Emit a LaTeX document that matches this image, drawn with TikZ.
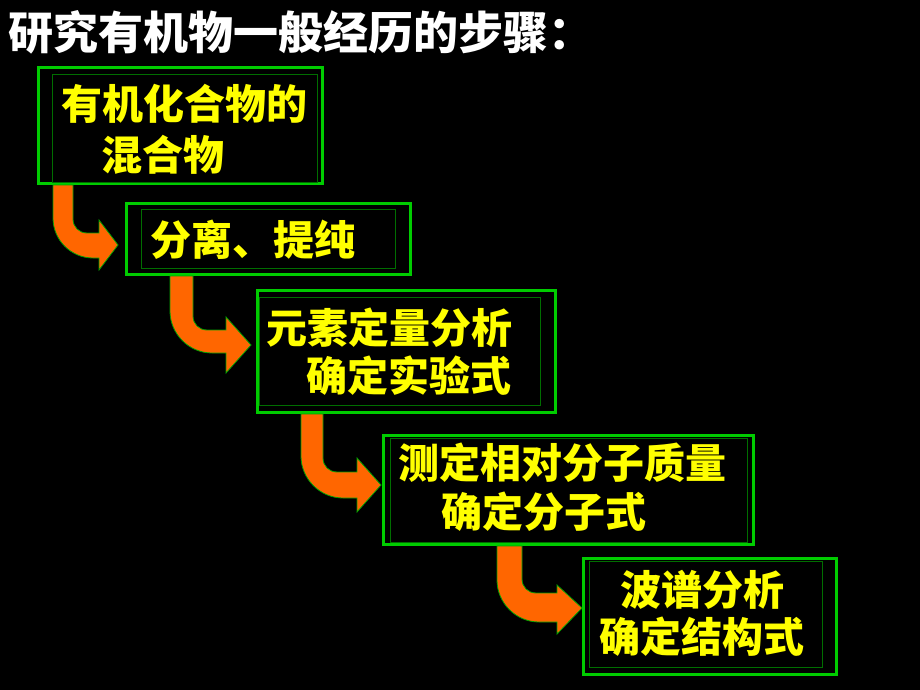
\documentclass[tikz,border=0pt]{standalone}
\usepackage{fontspec}
\newfontfamily\cjk{Noto Sans CJK SC}
\definecolor{bggreen}{RGB}{0,204,0}
\definecolor{dkgreen}{RGB}{0,110,0}
\definecolor{arrorange}{RGB}{255,102,0}
\definecolor{txtyellow}{RGB}{255,255,0}
\tikzset{
  outerbox/.style={draw=bggreen, line width=3pt},
  innerbox/.style={draw=dkgreen, line width=1pt},
  steptext/.style={anchor=base west, inner sep=0pt, text=txtyellow, font=\cjk\bfseries\fontsize{41}{48}\selectfont},
  bentarrow/.style={fill=arrorange, draw=bggreen!80!black, line width=0.8pt, line join=miter},
}
\begin{document}
\begin{tikzpicture}[x=1pt,y=-1pt]
\fill[black] (0,0) rectangle (920,690);
\useasboundingbox (0,0) rectangle (920,690);

% title
\node[anchor=base west, inner sep=0pt, text=white, font=\cjk\bfseries\fontsize{45}{50}\selectfont] (title) at (8,50) {研究有机物一般经历的步骤：};

% boxes
\draw[outerbox] (38,68) rectangle (322,183);
\draw[innerbox] (52,75) rectangle (317,182);
\draw[outerbox] (126,203) rectangle (410,274);
\draw[innerbox] (141,209) rectangle (395,268);
\draw[outerbox] (257,290) rectangle (555,412);
\draw[innerbox] (259,297) rectangle (540,405);
\draw[outerbox] (383,435) rectangle (753,544);
\draw[innerbox] (390,438) rectangle (747,542);
\draw[outerbox] (583,558) rectangle (836,674);
\draw[innerbox] (589,561) rectangle (822,667);

% texts
\node[steptext] (t1a) at (61,120) {有机化合物的};
\node[steptext] (t1b) at (101,170) {混合物};
\node[steptext] (t2) at (150,255) {分离、提纯};
\node[steptext] (t3a) at (266,343) {元素定量分析};
\node[steptext] (t3b) at (306,391) {确定实验式};
\node[steptext] (t4a) at (398,478) {测定相对分子质量};
\node[steptext] (t4b) at (441,527) {确定分子式};
\node[steptext] (t5a) at (620,605) {波谱分析};
\node[steptext] (t5b) at (599,652) {确定结构式};

% bent arrows
\draw[bentarrow] (53,185) -- (73,185) -- (73,219) .. controls (73,227) and (79,233) .. (87,233)
  -- (99,233) -- (99,220) -- (118,245) -- (99,270) -- (99,258) -- (93,258)
  .. controls (71,258) and (53,240) .. (53,218) -- cycle;
\draw[bentarrow] (170,276) -- (193,276) -- (193,316) .. controls (193,324) and (199,330) .. (207,330)
  -- (226,330) -- (226,317) -- (251,345) -- (226,373) -- (226,353) -- (212,353)
  .. controls (189,353) and (170,334) .. (170,311) -- cycle;
\draw[bentarrow] (301,414) -- (323,414) -- (323,458) .. controls (323,466) and (329,472) .. (337,472)
  -- (357,472) -- (357,458) -- (381,485) -- (357,512) -- (357,498) -- (343,498)
  .. controls (320,498) and (301,479) .. (301,456) -- cycle;
\draw[bentarrow] (497,546) -- (522,546) -- (522,579) .. controls (522,587) and (528,593) .. (536,593)
  -- (557,593) -- (557,585) -- (582,608) -- (557,634) -- (557,622) -- (539,622)
  .. controls (516,622) and (497,603) .. (497,580) -- cycle;
\end{tikzpicture}
\end{document}
